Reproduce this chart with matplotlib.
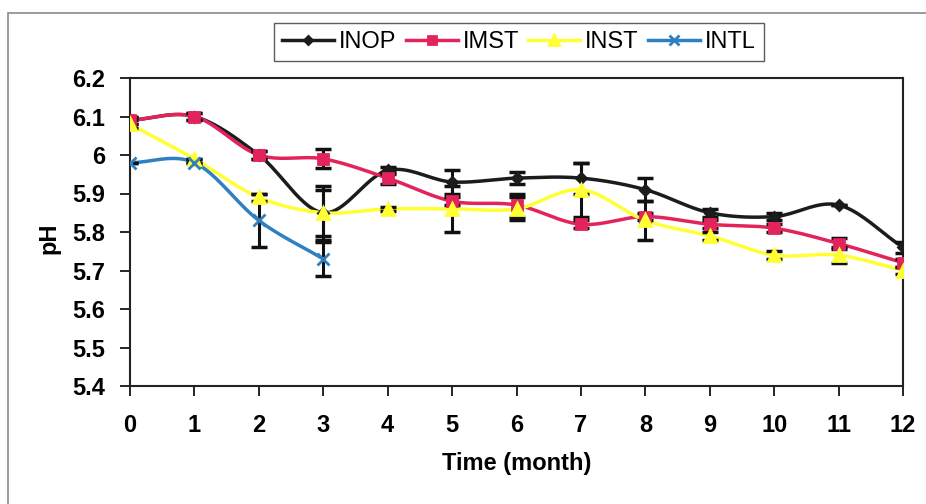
import matplotlib.pyplot as plt
import numpy as np
from matplotlib.patches import Rectangle

plt.rcParams['font.family'] = ['Liberation Sans', 'DejaVu Sans']
plt.rcParams['font.weight'] = 'bold'

months = list(range(13))
months_intl = [0, 1, 2, 3]

inop = [6.09, 6.10, 6.00, 5.85, 5.96, 5.93, 5.94, 5.94, 5.91, 5.85, 5.84, 5.87, 5.76]
imst = [6.09, 6.10, 6.00, 5.99, 5.94, 5.88, 5.87, 5.82, 5.84, 5.82, 5.81, 5.77, 5.72]
inst = [6.08, 5.99, 5.89, 5.85, 5.86, 5.86, 5.86, 5.91, 5.83, 5.79, 5.74, 5.74, 5.70]
intl = [5.98, 5.98, 5.83, 5.73]

inop_err = [0.01, 0.01, 0.01, 0.07, 0.01, 0.03, 0.015, 0.04, 0.03, 0.01, 0.01, 0.0, 0.015]
imst_err = [0.01, 0.01, 0.01, 0.025, 0.015, 0.01, 0.03, 0.01, 0.01, 0.01, 0.01, 0.015, 0.01]
inst_err = [0.01, 0.0, 0.01, 0.06, 0.005, 0.06, 0.03, 0.07, 0.05, 0.01, 0.01, 0.02, 0.01]
intl_err = [0.0, 0.0, 0.07, 0.045]


def smooth(x, y, n=20):
    # Catmull-Rom curve through the points, like a smoothed spreadsheet line
    x = np.asarray(x, float)
    y = np.asarray(y, float)
    px = np.concatenate([[2 * x[0] - x[1]], x, [2 * x[-1] - x[-2]]])
    py = np.concatenate([[2 * y[0] - y[1]], y, [2 * y[-1] - y[-2]]])
    xs, ys = [], []
    t = np.linspace(0, 1, n, endpoint=False)
    for i in range(1, len(px) - 2):
        for p, out in ((px, xs), (py, ys)):
            p0, p1, p2, p3 = p[i - 1], p[i], p[i + 1], p[i + 2]
            out.extend(0.5 * (2 * p1 + (-p0 + p2) * t
                              + (2 * p0 - 5 * p1 + 4 * p2 - p3) * t ** 2
                              + (-p0 + 3 * p1 - 3 * p2 + p3) * t ** 3))
    xs.append(x[-1])
    ys.append(y[-1])
    return xs, ys


fig = plt.figure(figsize=(9.26, 5.04), dpi=100)
ax = fig.add_axes([130 / 926, 118 / 504, 773 / 926, 308 / 504])

series = [
    ('INOP', months, inop, inop_err, '#1c1c1c', 'D', 5),
    ('IMST', months, imst, imst_err, '#e3245c', 's', 7),
    ('INST', months, inst, inst_err, '#ffff33', '^', 8),
    ('INTL', months_intl, intl, intl_err, '#2f80c0', 'x', 8),
]

handles = []
for name, xs, ys, err, color, marker, ms in series:
    sx, sy = smooth(xs, ys)
    ax.plot(sx, sy, color=color, lw=2.5, zorder=3)
    ax.errorbar(xs, ys, yerr=err, fmt='none', ecolor='#111111', elinewidth=2.2,
                capsize=6, capthick=2.5, zorder=4)
    ax.plot(xs, ys, ls='none', marker=marker, ms=ms, color=color,
            markeredgecolor=color, mew=2, zorder=5)
    h, = ax.plot([], [], color=color, lw=2.5, marker=marker,
                 ms=ms - 1, mew=2)
    handles.append(h)

ticks_y = np.round(np.arange(5.4, 6.21, 0.1), 1)
ax.set_xlim(0, 12)
ax.set_ylim(5.4, 6.2)
ax.set_xticks(months)
ax.set_yticks(ticks_y)
ax.set_yticklabels([f'{v:g}' for v in ticks_y])
ax.tick_params(axis='both', labelsize=17, direction='out', length=7, width=1.2)
ax.tick_params(axis='x', pad=13)
ax.tick_params(axis='y', pad=11)
for s in ax.spines.values():
    s.set_linewidth(1.5)
    s.set_color('#222222')

ax.set_xlabel('Time (month)', fontsize=17, fontweight='bold', labelpad=11)
ax.set_ylabel('pH', fontsize=17, fontweight='bold')
ax.yaxis.set_label_coords(-0.09, 0.48)

leg = fig.legend(handles, [s[0] for s in series], loc='center',
                 bbox_to_anchor=(519 / 926, 1 - 42 / 504), ncol=4,
                 prop={'size': 17, 'weight': 'normal'}, frameon=True,
                 fancybox=False, handlelength=2.2, handletextpad=0.2,
                 columnspacing=0.4, borderpad=0.35)
leg.get_frame().set_edgecolor('#333333')
leg.get_frame().set_linewidth(1.0)

# thin grey frame around the whole chart
fig.patches.append(Rectangle((8 / 926, -0.05), 1.0, 1 - 13 / 504 + 0.05,
                             transform=fig.transFigure, fill=False,
                             edgecolor='#8a8a8a', lw=1.2))

fig.savefig('out.png', dpi=100)
